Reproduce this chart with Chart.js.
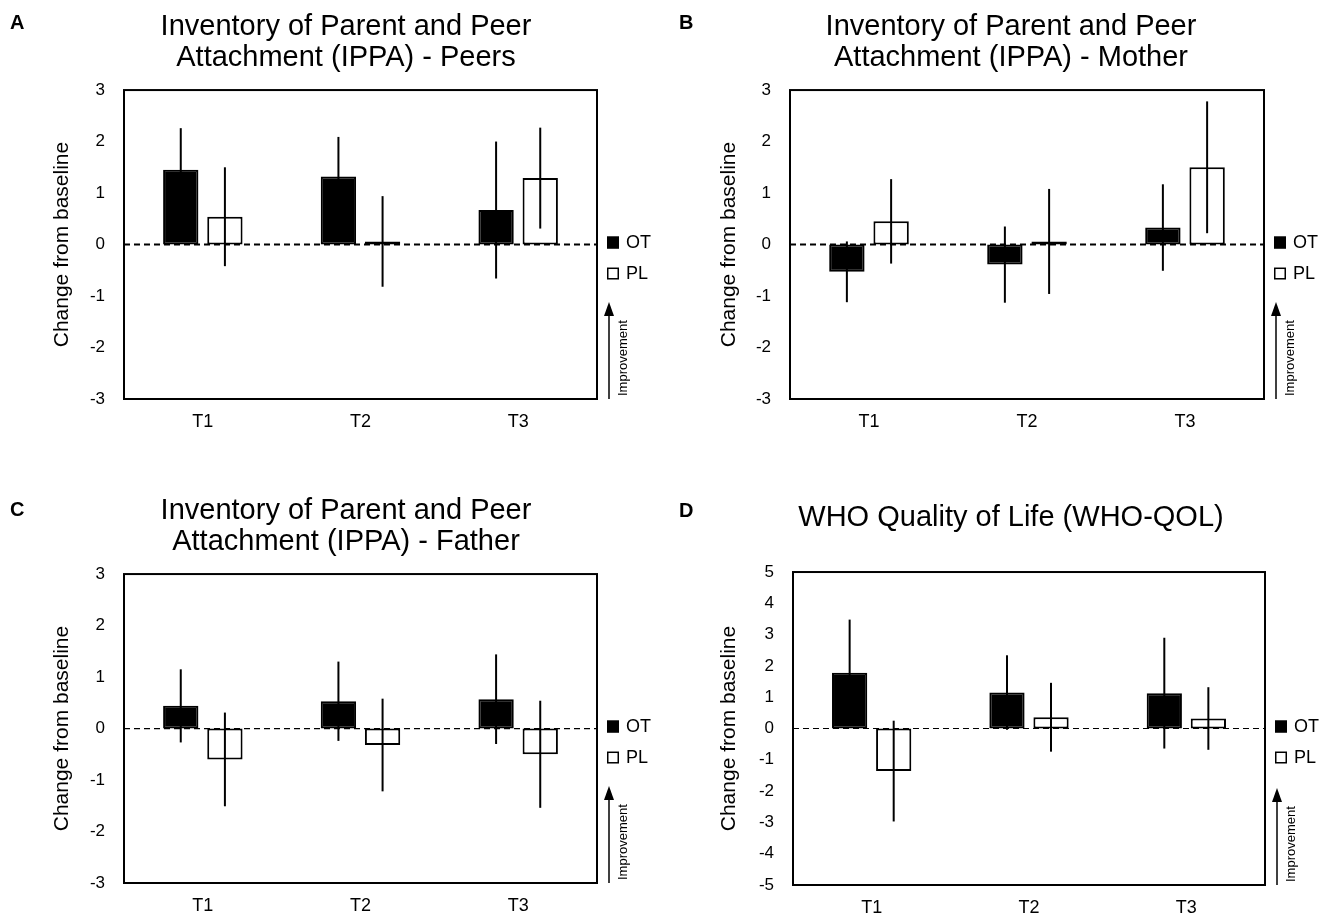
<!DOCTYPE html>
<html>
<head>
<meta charset="utf-8">
<title>IPPA / WHO-QOL change from baseline</title>
<script src="https://cdn.jsdelivr.net/npm/chart.js@4.4.1/dist/chart.umd.min.js"></script>
<style>
  html, body { margin: 0; padding: 0; background: #fff; overflow: hidden; }
  #figure { position: relative; width: 1330px; height: 915px; overflow: hidden; }
  #figure canvas { position: absolute; }
</style>
</head>
<body>
<div id="figure">
  <canvas id="panelA" width="692" height="484" style="left:0;top:0"></canvas>
  <canvas id="panelB" width="692" height="484" style="left:665px;top:0"></canvas>
  <canvas id="panelC" width="692" height="484" style="left:0;top:484px"></canvas>
  <canvas id="panelD" width="692" height="484" style="left:665px;top:484px"></canvas>
</div>
<script>
// ---- data ----
const CATEGORIES = ['T1', 'T2', 'T3'];
const SERIES_NAMES = ['OT', 'PL'];

const OT_PEERS = [1.45, 1.32, 0.67];
const OT_PEERS_ERR = [0.81, 0.77, 1.33];
const PL_PEERS = [0.54, 0.06, 1.29];
const PL_PEERS_ERR = [0.96, 0.88, 0.98];

const OT_MOTHER = [-0.53, -0.39, 0.33];
const OT_MOTHER_ERR = [0.59, 0.74, 0.84];
const PL_MOTHER = [0.45, 0.06, 1.50];
const PL_MOTHER_ERR = [0.82, 1.02, 1.28];

const OT_FATHER = [0.44, 0.53, 0.57];
const OT_FATHER_ERR = [0.71, 0.77, 0.87];
const PL_FATHER = [-0.60, -0.32, -0.50];
const PL_FATHER_ERR = [0.91, 0.90, 1.04];

const OT_QOL = [1.78, 1.15, 1.13];
const OT_QOL_ERR = [1.70, 1.19, 1.77];
const PL_QOL = [-1.36, 0.36, 0.32];
const PL_QOL_ERR = [1.61, 1.10, 1.00];

const IPPA_RANGE = [-3, 3];
const QOL_RANGE = [-5, 5];

const FONT = "'Liberation Sans', Arial, sans-serif";
const INK = '#000';

// zero line, error bars, frame, legend and the "Improvement" arrow
const panelChrome = {
  id: 'panelChrome',
  beforeDatasetsDraw(chart, args, opts) {
    const { ctx, chartArea: a } = chart;
    const y0 = chart.scales.y.getPixelForValue(0);
    ctx.save();
    ctx.strokeStyle = INK;
    ctx.lineWidth = opts.zeroWidth;
    ctx.setLineDash([6, 4]);
    ctx.beginPath();
    ctx.moveTo(a.left, y0);
    ctx.lineTo(a.right, y0);
    ctx.stroke();
    ctx.restore();
  },
  afterDatasetsDraw(chart) {
    const { ctx } = chart;
    const ys = chart.scales.y;
    ctx.save();
    ctx.strokeStyle = INK;
    ctx.lineWidth = 2;
    chart.data.datasets.forEach((ds, di) => {
      chart.getDatasetMeta(di).data.forEach((bar, i) => {
        const v = ds.data[i], e = ds.errors[i];
        ctx.beginPath();
        ctx.moveTo(bar.x, ys.getPixelForValue(v + e));
        ctx.lineTo(bar.x, ys.getPixelForValue(v - e));
        ctx.stroke();
      });
    });
    ctx.restore();
  },
  afterDraw(chart, args, opts) {
    const { ctx, chartArea: a } = chart;
    ctx.save();
    ctx.strokeStyle = INK;
    ctx.lineWidth = 2;
    ctx.strokeRect(a.left, a.top, a.right - a.left, a.bottom - a.top);

    // legend
    const mid = (a.top + a.bottom) / 2;
    const lx = a.right + 10;
    ctx.font = `18px ${FONT}`;
    ctx.textBaseline = 'middle';
    ctx.textAlign = 'left';
    chart.data.datasets.forEach((ds, i) => {
      const cy = mid - 2 + i * 31;
      ctx.fillStyle = ds.backgroundColor;
      ctx.fillRect(lx, cy - 6, 12, 12);
      ctx.lineWidth = 1.5;
      ctx.strokeRect(lx + 0.75, cy - 5.25, 10.5, 10.5);
      ctx.fillStyle = INK;
      ctx.fillText(ds.label, lx + 19, cy + 1);
    });

    // improvement arrow
    const ax = a.right + 12;
    const tip = a.bottom - 97;
    ctx.lineWidth = 1.5;
    ctx.beginPath();
    ctx.moveTo(ax, a.bottom);
    ctx.lineTo(ax, tip + 10);
    ctx.stroke();
    ctx.fillStyle = INK;
    ctx.beginPath();
    ctx.moveTo(ax, tip);
    ctx.lineTo(ax - 5, tip + 14);
    ctx.lineTo(ax + 5, tip + 14);
    ctx.closePath();
    ctx.fill();
    ctx.translate(a.right + 26, a.bottom - 3);
    ctx.rotate(-Math.PI / 2);
    ctx.font = `13px ${FONT}`;
    ctx.fillText('Improvement', 0, 0);
    ctx.restore();

    // panel letter
    ctx.save();
    ctx.fillStyle = INK;
    ctx.font = `bold 20px ${FONT}`;
    ctx.textBaseline = 'middle';
    ctx.fillText(opts.letter, opts.letterX, opts.letterY);
    ctx.restore();
  }
};

function makePanel(id, p) {
  return new Chart(document.getElementById(id), {
    type: 'bar',
    data: {
      labels: CATEGORIES,
      datasets: [
        { label: SERIES_NAMES[0], data: p.ot, errors: p.otErr, backgroundColor: INK, borderColor: INK, borderWidth: 2, borderSkipped: false },
        { label: SERIES_NAMES[1], data: p.pl, errors: p.plErr, backgroundColor: '#fff', borderColor: INK, borderWidth: 2, borderSkipped: false }
      ]
    },
    plugins: [panelChrome],
    options: {
      responsive: false,
      animation: false,
      events: [],
      datasets: { bar: { categoryPercentage: 0.56, barPercentage: 0.8 } },
      layout: { padding: { left: 0, right: 0, top: 0, bottom: p.padBottom } },
      plugins: {
        legend: { display: false },
        tooltip: { enabled: false },
        title: {
          display: true,
          text: p.title,
          color: INK,
          font: { family: FONT, size: 29, weight: 'normal', lineHeight: 1.07 },
          padding: p.titlePad
        },
        panelChrome: { letter: p.letter, letterX: p.letterX, letterY: p.letterY, zeroWidth: p.zeroWidth }
      },
      scales: {
        x: {
          grid: { display: false },
          border: { display: false },
          ticks: { color: INK, padding: 4, font: { family: FONT, size: 18 } },
          afterFit: s => { s.height = 45; }
        },
        y: {
          min: p.range[0],
          max: p.range[1],
          grid: { display: false },
          border: { display: false },
          ticks: { stepSize: 1, color: INK, padding: 11, font: { family: FONT, size: 17 } },
          title: {
            display: true,
            text: 'Change from baseline',
            color: INK,
            font: { family: FONT, size: 21 },
            padding: { top: p.yTitleX - 12.6, bottom: 0 }
          },
          afterFit: s => { s.width = p.yWidth; }
        },
        // empty right-hand strip that holds the legend and the arrow
        side: {
          type: 'linear',
          position: 'right',
          grid: { display: false },
          border: { display: false },
          ticks: { display: false },
          afterFit: s => { s.width = p.sideWidth; }
        }
      }
    }
  });
}

makePanel('panelA', {
  title: ['Inventory of Parent and Peer', 'Attachment (IPPA) - Peers'],
  ot: OT_PEERS, otErr: OT_PEERS_ERR, pl: PL_PEERS, plErr: PL_PEERS_ERR,
  range: IPPA_RANGE, letter: 'A', letterX: 10, letterY: 23, zeroWidth: 2,
  titlePad: { top: 11.5, bottom: 16.5 }, yWidth: 124, sideWidth: 95,
  padBottom: 40, yTitleX: 62
});

makePanel('panelB', {
  title: ['Inventory of Parent and Peer', 'Attachment (IPPA) - Mother'],
  ot: OT_MOTHER, otErr: OT_MOTHER_ERR, pl: PL_MOTHER, plErr: PL_MOTHER_ERR,
  range: IPPA_RANGE, letter: 'B', letterX: 14, letterY: 23, zeroWidth: 2,
  titlePad: { top: 11.5, bottom: 16.5 }, yWidth: 125, sideWidth: 93,
  padBottom: 40, yTitleX: 64
});

makePanel('panelC', {
  title: ['Inventory of Parent and Peer', 'Attachment (IPPA) - Father'],
  ot: OT_FATHER, otErr: OT_FATHER_ERR, pl: PL_FATHER, plErr: PL_FATHER_ERR,
  range: IPPA_RANGE, letter: 'C', letterX: 10, letterY: 26, zeroWidth: 1.2,
  titlePad: { top: 11.5, bottom: 16.5 }, yWidth: 124, sideWidth: 95,
  padBottom: 40, yTitleX: 62
});

makePanel('panelD', {
  title: 'WHO Quality of Life (WHO-QOL)',
  ot: OT_QOL, otErr: OT_QOL_ERR, pl: PL_QOL, plErr: PL_QOL_ERR,
  range: QOL_RANGE, letter: 'D', letterX: 14, letterY: 27, zeroWidth: 1.2,
  titlePad: { top: 18.5, bottom: 38.5 }, yWidth: 128, sideWidth: 92,
  padBottom: 38, yTitleX: 64
});
</script>
</body>
</html>
